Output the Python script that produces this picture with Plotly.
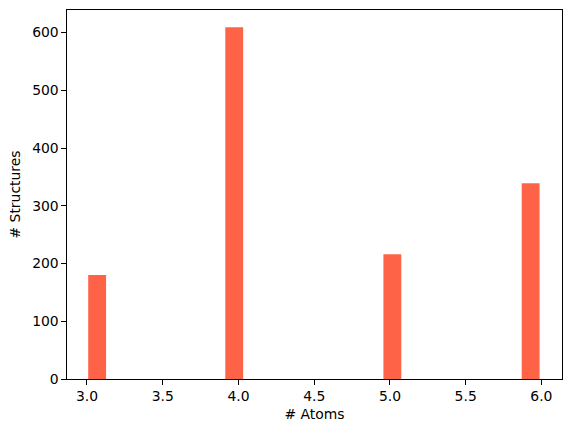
import plotly.graph_objects as go

# histogram bins (bin centres, counts)
bin_centres = [3.067, 3.972, 5.016, 5.929]
counts = [180, 609, 216, 339]
bin_width = 0.118

x_ticks = [3.0, 3.5, 4.0, 4.5, 5.0, 5.5, 6.0]
y_ticks = [0, 100, 200, 300, 400, 500, 600]

FONT = dict(family="DejaVu Sans, sans-serif", size=13.9, color="black")

fig = go.Figure(
    go.Bar(
        x=bin_centres,
        y=counts,
        width=bin_width,
        marker=dict(color="#ff6347", line=dict(width=0)),
    )
)

axis_common = dict(
    showline=True,
    linecolor="black",
    linewidth=1.1,
    mirror=True,
    ticks="outside",
    ticklen=4.5,
    tickwidth=1.1,
    tickcolor="black",
    showgrid=False,
    zeroline=False,
    tickfont=FONT,
)

fig.update_layout(
    width=571,
    height=432,
    margin=dict(l=67, r=9, t=10, b=53),
    paper_bgcolor="white",
    plot_bgcolor="white",
    showlegend=False,
    font=FONT,
    xaxis=dict(
        range=[2.868, 6.136],
        tickvals=x_ticks,
        ticktext=[f"{v:.1f}" for v in x_ticks],
        title=dict(text="# Atoms", font=FONT, standoff=6),
        **axis_common,
    ),
    yaxis=dict(
        range=[0, 639],
        tickvals=y_ticks,
        title=dict(text="# Structures", font=FONT, standoff=8),
        **axis_common,
    ),
)

# drop the browser's default body margin so the figure sits at (0, 0)
fig.write_html(
    "out.html",
    config={"displayModeBar": False},
    post_script="document.body.style.margin='0';",
)
